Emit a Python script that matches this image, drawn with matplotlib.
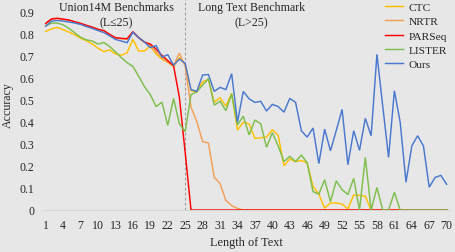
import matplotlib
matplotlib.use("Agg")
import matplotlib.pyplot as plt

lengths = list(range(1, 71))
x_ticks = list(range(1, 71, 3))
y_ticks = [0, 0.1, 0.2, 0.3, 0.4, 0.5, 0.6, 0.7, 0.8, 0.9]
y_tick_labels = ["0", "0.1", "0.2", "0.3", "0.4", "0.5", "0.6", "0.7", "0.8", "0.9"]

ctc = [0.808, 0.820, 0.826, 0.816, 0.805, 0.793, 0.778, 0.766, 0.752, 0.732,
       0.717, 0.725, 0.706, 0.700, 0.712, 0.772, 0.720, 0.720, 0.742, 0.706,
       0.683, 0.668, 0.649, 0.690, 0.660, 0.540, 0.533, 0.580, 0.590, 0.488,
       0.508, 0.470, 0.528, 0.362, 0.397, 0.390, 0.324, 0.327, 0.330, 0.364,
       0.338, 0.200, 0.231, 0.219, 0.224, 0.213, 0.107, 0.072, 0.008, 0.032,
       0.032, 0.027, 0.005, 0.068, 0.066, 0.062, 0.0, 0.0, 0.0, 0.0,
       0.0, 0.0, 0.0, 0.0, 0.0, 0.0, 0.0, 0.0, 0.0, 0.0]

nrtr = [0.843, 0.863, 0.866, 0.862, 0.858, 0.850, 0.843, 0.834, 0.826, 0.816,
        0.810, 0.793, 0.778, 0.775, 0.773, 0.805, 0.778, 0.758, 0.745, 0.715,
        0.690, 0.668, 0.655, 0.710, 0.650, 0.465, 0.400, 0.310, 0.303, 0.148,
        0.120, 0.043, 0.020, 0.007, 0.0, 0.0, 0.0, 0.0, 0.0, 0.0,
        0.0, 0.0, 0.0, 0.0, 0.0, 0.0, 0.0, 0.0, 0.0, 0.0,
        0.0, 0.0, 0.0, 0.0, 0.0, 0.0, 0.0, 0.0, 0.0, 0.0,
        0.0, 0.0, 0.0, 0.0, 0.0, 0.0, 0.0, 0.0, 0.0, 0.0]

parseq = [0.845, 0.865, 0.868, 0.864, 0.860, 0.852, 0.845, 0.836, 0.828, 0.818,
          0.812, 0.795, 0.780, 0.777, 0.775, 0.807, 0.780, 0.760, 0.751, 0.728,
          0.700, 0.676, 0.653, 0.510, 0.260, 0.0, 0.0, 0.0, 0.0, 0.0,
          0.0, 0.0, 0.0, 0.0, 0.0, 0.0, 0.0, 0.0, 0.0, 0.0,
          0.0, 0.0, 0.0, 0.0, 0.0, 0.0, 0.0, 0.0, 0.0, 0.0,
          0.0, 0.0, 0.0, 0.0, 0.0, 0.0, 0.0, 0.0, 0.0, 0.0,
          0.0, 0.0, 0.0, 0.0, 0.0, 0.0, 0.0, 0.0, 0.0, 0.0]

lister = [0.834, 0.846, 0.846, 0.838, 0.822, 0.802, 0.782, 0.770, 0.765, 0.751,
          0.758, 0.740, 0.716, 0.690, 0.667, 0.650, 0.605, 0.558, 0.522, 0.468,
          0.488, 0.383, 0.505, 0.390, 0.355, 0.522, 0.535, 0.565, 0.595, 0.475,
          0.492, 0.450, 0.525, 0.385, 0.425, 0.340, 0.407, 0.390, 0.284, 0.350,
          0.290, 0.219, 0.243, 0.219, 0.249, 0.213, 0.083, 0.072, 0.137, 0.038,
          0.132, 0.092, 0.070, 0.143, 0.0, 0.238, 0.0, 0.102, 0.0, 0.0,
          0.080, 0.0, 0.0, 0.0, 0.0, 0.0, 0.0, 0.0, 0.0, 0.0]

ours = [0.832, 0.855, 0.858, 0.855, 0.851, 0.846, 0.840, 0.830, 0.822, 0.812,
        0.803, 0.788, 0.772, 0.765, 0.757, 0.805, 0.780, 0.760, 0.735, 0.744,
        0.692, 0.703, 0.655, 0.683, 0.664, 0.545, 0.537, 0.611, 0.613, 0.537,
        0.555, 0.545, 0.617, 0.398, 0.537, 0.503, 0.487, 0.492, 0.448, 0.478,
        0.468, 0.443, 0.505, 0.487, 0.358, 0.330, 0.371, 0.210, 0.366, 0.268,
        0.360, 0.455, 0.205, 0.359, 0.270, 0.415, 0.336, 0.705, 0.470, 0.238,
        0.540, 0.397, 0.126, 0.290, 0.336, 0.290, 0.103, 0.147, 0.157, 0.116]

series_names = ["CTC", "NRTR", "PARSeq", "LISTER", "Ours"]
series_values = [ctc, nrtr, parseq, lister, ours]
series_colors = ["#FFC000", "#F4A058", "#FF0000", "#7DBE4C", "#4A78CF"]

bg = "#e7e7e7"
txt = "#262626"
plt.rcParams["font.family"] = ["Liberation Serif", "DejaVu Serif"]
fig = plt.figure(figsize=(4.56, 2.53), dpi=100, facecolor=bg)
ax = fig.add_axes([43.4 / 456, 1 - 211 / 253, (449 - 43.4) / 456, 211 / 253])
ax.set_facecolor(bg)

for name, vals, col in zip(series_names, series_values, series_colors):
    ax.plot(lengths, vals, color=col, lw=1.05, label=name, clip_on=False,
            solid_joinstyle="miter")

ax.axvline(25, color="#a0a0a0", lw=0.8, ls=(0, (2.5, 2)), zorder=0)

ax.set_xlim(0.6, 70.4)
ax.set_ylim(0, 0.955)
ax.set_xticks(x_ticks)
ax.set_yticks(y_ticks)
ax.set_yticklabels(y_tick_labels)
ax.tick_params(length=0, labelsize=8.6, colors=txt)
ax.tick_params(axis="x", pad=6.5)
ax.tick_params(axis="y", pad=6.5)
for s in ["top", "right", "left"]:
    ax.spines[s].set_visible(False)
ax.spines["bottom"].set_color("#d6d6d6")
ax.spines["bottom"].set_linewidth(0.8)

ax.set_xlabel("Length of Text", fontsize=8.8, color=txt, labelpad=3.5)
ax.set_ylabel("Accuracy", fontsize=8.6, color=txt, labelpad=4)

ax.text(13.1, 0.918, "Union14M Benchmarks", ha="center", va="center", fontsize=8.6, color=txt)
ax.text(13.1, 0.85, "(L\u226425)", ha="center", va="center", fontsize=8.6, color=txt)
ax.text(36.4, 0.918, "Long Text Benchmark", ha="center", va="center", fontsize=8.6, color=txt)
ax.text(36.4, 0.85, "(L>25)", ha="center", va="center", fontsize=8.6, color=txt)

leg = ax.legend(loc="upper left", bbox_to_anchor=(385 / 456, 1 - 3 / 253),
                bbox_transform=fig.transFigure, frameon=False, fontsize=8.2,
                handlelength=1.6, handletextpad=0.5, labelspacing=0.38,
                borderpad=0, borderaxespad=0)
for t in leg.get_texts():
    t.set_color(txt)

fig.savefig("out.png", dpi=100, facecolor=bg)
